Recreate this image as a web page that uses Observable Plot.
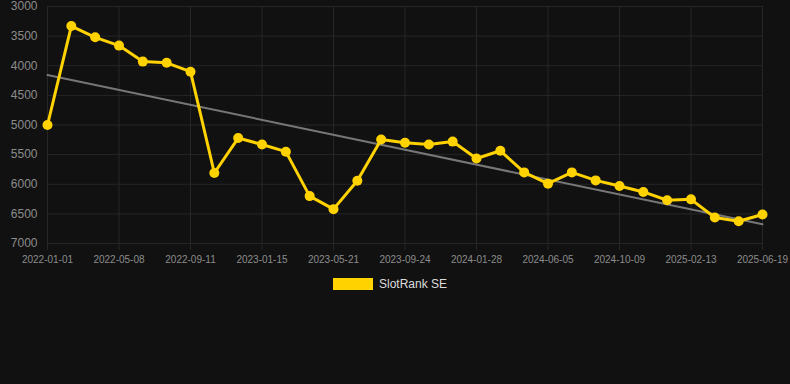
<!DOCTYPE html>
<html><head><meta charset="utf-8">
<script src="https://cdn.jsdelivr.net/npm/d3@7"></script>
<script src="https://cdn.jsdelivr.net/npm/@observablehq/plot@0.6"></script>
<style>
html,body{margin:0;padding:0;background:#111;}
body{width:790px;height:384px;overflow:hidden;font-family:"Liberation Sans",Arial,sans-serif;}
#legend{display:flex;justify-content:center;align-items:center;gap:6px;height:28px;color:#ddd;font-size:12px;padding-right:10px;}
#legend .sw{display:inline-block;width:40px;height:12px;background:#ffd200;}
</style></head><body>
<div id="chart"></div>
<div id="legend"><span class="sw"></span><span id="lname"></span></div>
<script>
const dates = ["2022-01-01","2022-02-12","2022-03-26","2022-05-08","2022-06-19","2022-07-31","2022-09-11","2022-10-23","2022-12-04","2023-01-15","2023-02-26","2023-04-09","2023-05-21","2023-07-02","2023-08-13","2023-09-24","2023-11-05","2023-12-17","2024-01-28","2024-03-10","2024-04-22","2024-06-05","2024-07-17","2024-08-28","2024-10-09","2024-11-20","2025-01-01","2025-02-13","2025-03-27","2025-05-08","2025-06-19"];
const ranks = [5000,3330,3520,3660,3930,3950,4100,5810,5220,5330,5450,6200,6420,5940,5245,5300,5330,5280,5565,5435,5800,5990,5800,5935,6030,6130,6270,6255,6560,6625,6510];
const xTicks = ["2022-01-01","2022-05-08","2022-09-11","2023-01-15","2023-05-21","2023-09-24","2024-01-28","2024-06-05","2024-10-09","2025-02-13","2025-06-19"];
const yTicks = [3000,3500,4000,4500,5000,5500,6000,6500,7000];
const seriesName = "SlotRank SE";

document.getElementById("lname").textContent = seriesName;

// x positions are the points' order along the category axis
const data = dates.map((d, i) => ({date: d, i, rank: ranks[i]}));
const xTickIdx = xTicks.map(t => dates.indexOf(t));

// least-squares trend over point index
const n = data.length;
const mx = d3.mean(data, d => d.i), my = d3.mean(data, d => d.rank);
const slope = d3.sum(data, d => (d.i - mx) * (d.rank - my)) / d3.sum(data, d => (d.i - mx) ** 2);
const icpt = my - slope * mx;
const trend = [data[0], data[n - 1]].map(d => ({i: d.i, rank: icpt + slope * d.i}));

const grid = "#262626";
const chart = Plot.plot({
  width: 790, height: 270,
  marginLeft: 47, marginRight: 28, marginTop: 6, marginBottom: 27,
  style: {background: "#111", color: "#8c8c8c", fontFamily: "'Liberation Sans', Arial, sans-serif", fontSize: "12px"},
  x: {type: "linear", domain: [0, n - 1]},
  y: {domain: [3000, 7000], reverse: true},
  marks: [
    Plot.gridY(yTicks, {stroke: grid, strokeOpacity: 1}),
    Plot.gridX(xTickIdx, {stroke: grid, strokeOpacity: 1}),
    Plot.axisY(yTicks, {tickSize: 0, tickPadding: 10, fill: "#8c8c8c", fontSize: 12, label: null, tickFormat: d => String(d)}),
    Plot.axisX(xTickIdx, {tickSize: 7, tickPadding: 5, stroke: grid, fill: "#8c8c8c", fontSize: 10, label: null, tickFormat: i => dates[i]}),
    Plot.line(trend, {x: "i", y: "rank", stroke: "#777", strokeWidth: 2}),
    Plot.line(data, {x: "i", y: "rank", stroke: "#ffd200", strokeWidth: 3, curve: "linear"}),
    Plot.dot(data, {x: "i", y: "rank", r: 5, fill: "#ffd200", stroke: "none"})
  ]
});
document.getElementById("chart").appendChild(chart);
</script>
</body></html>
